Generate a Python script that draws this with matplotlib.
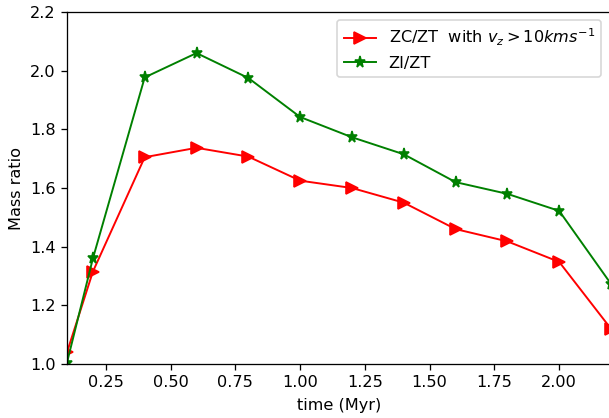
import numpy as np
import matplotlib
matplotlib.use("Agg")
from matplotlib import pyplot as plt

time = [0.1, 0.2, 0.4, 0.6, 0.8, 1.0, 1.2, 1.4, 1.6, 1.8, 2.0, 2.2]
zc_zt = [1.04, 1.315, 1.705, 1.737, 1.707, 1.625, 1.60, 1.55, 1.46, 1.418, 1.348, 1.12]
zi_zt = [1.005, 1.36, 1.977, 2.06, 1.975, 1.842, 1.773, 1.715, 1.62, 1.58, 1.522, 1.273]

DPI = 116
fig = plt.figure(figsize=(609 / DPI, 418 / DPI), dpi=DPI)
ax = fig.add_axes([67 / 609, 1 - 364 / 418, (611 - 67) / 609, (364 - 12) / 418])

ax.plot(time, zc_zt, color="red", marker=">", markersize=7.5, linewidth=1.2,
        label=r"ZC/ZT  with $v_z > 10 kms^{-1}$")
ax.plot(time, zi_zt, color="green", marker="*", markersize=7, linewidth=1.2,
        label="ZI/ZT")

ax.set_xlim(0.1, 2.2)
ax.set_ylim(1.0, 2.2)
ax.set_xticks([0.25, 0.50, 0.75, 1.00, 1.25, 1.50, 1.75, 2.00])
ax.set_xlabel("time (Myr)", labelpad=5)
ax.set_ylabel("Mass ratio")
ax.legend(loc="upper right", bbox_to_anchor=(0.997, 1.0))

fig.savefig("out.png", dpi=DPI)
